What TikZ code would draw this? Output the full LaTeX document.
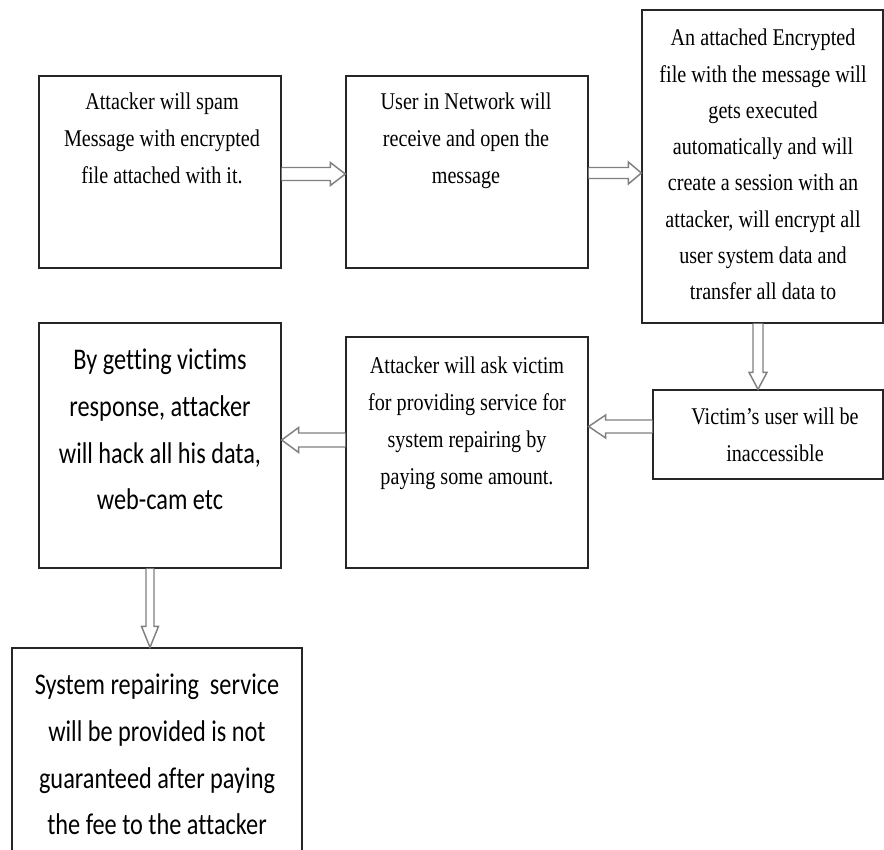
\documentclass[tikz,border=0pt]{standalone}
\usepackage{fontspec}
\setmainfont[FakeStretch=0.84]{Liberation Serif}
\newfontfamily\calfont[FakeStretch=0.81,Ligatures=NoCommon]{Carlito}
\usetikzlibrary{calc}
\tikzset{
  box/.style={draw=black!85, line width=1pt, rectangle, inner sep=0pt, fill=white},
  serif/.style={anchor=north, align=center, inner sep=0pt, font=\fontsize{18pt}{27.6pt}\selectfont},
  cal/.style={anchor=north, align=center, inner sep=0pt, font=\calfont\fontsize{22.5pt}{35pt}\selectfont},
  blockarrow/.style={draw=black!50, line width=1.1pt, fill=white, line join=miter}
}
\newcommand\harrow[5]{\draw[blockarrow] ($(#1)+(0,-#3)$) -- ($(#2)+(#5,-#3)$) -- ($(#2)+(#5,-#4)$) -- (#2) -- ($(#2)+(#5,#4)$) -- ($(#2)+(#5,#3)$) -- ($(#1)+(0,#3)$);}
\newcommand\varrow[5]{\draw[blockarrow] ($(#1)+(-#3,0)$) -- ($(#2)+(-#3,#5)$) -- ($(#2)+(-#4,#5)$) -- (#2) -- ($(#2)+(#4,#5)$) -- ($(#2)+(#3,#5)$) -- ($(#1)+(#3,0)$);}
\begin{document}
\begin{tikzpicture}[x=0.75pt,y=-0.75pt]
\useasboundingbox[fill=white] (0,0) rectangle (884,849);
% boxes
\node[box, minimum width=242*0.75pt, minimum height=192*0.75pt] (b1) at (160,172) {};
\node[box, minimum width=242*0.75pt, minimum height=192*0.75pt] (b2) at (467,172) {};
\node[box, minimum width=241*0.75pt, minimum height=313*0.75pt] (b3) at (762.5,166.5) {};
\node[box, minimum width=230*0.75pt, minimum height=89*0.75pt] (b4) at (768,434.5) {};
\node[box, minimum width=242*0.75pt, minimum height=231*0.75pt] (b5) at (467,452.5) {};
\node[box, minimum width=242*0.75pt, minimum height=245*0.75pt] (b6) at (160,445.5) {};
\node[box, minimum width=290*0.75pt, minimum height=212*0.75pt] (b7) at (157,754) {};
% texts
\node[serif] (t1) at (162,93) {Attacker will spam\\Message with encrypted\\file attached with it.};
\node[serif] (t2) at (466,93) {User in Network will\\receive and open the\\message};
\node[serif, font=\fontsize{18pt}{27.2pt}\selectfont] (t3) at (763,29) {An attached Encrypted\\file with the message will\\gets executed\\automatically and will\\create a session with an\\attacker, will encrypt all\\user system data and\\transfer all data to};
\node[serif] (t4) at (775,408) {Victim’s user will be\\inaccessible};
\node[serif] (t5) at (467,357) {Attacker will ask victim\\for providing service for\\system repairing by\\paying some amount.};
\node[cal] (t6) at (160,349) {By getting victims\\response, attacker\\will hack all his data,\\web-cam etc};
\node[cal] (t7) at (157,674) {System repairing\ \ service\\will be provided is not\\guaranteed after paying\\the fee to the attacker};
% arrow end points
\coordinate (a1s) at ($(b1.east)+(0,2)$);
\coordinate (a1e) at ($(b2.west)+(0,2)$);
\coordinate (a2s) at ($(b2.east)+(0,1)$);
\coordinate (a2e) at ($(b3.west)+(0,6.5)$);
\coordinate (a3s) at ($(b3.south)+(-4.5,0)$);
\coordinate (a3e) at ($(b4.north)+(-10,0)$);
\coordinate (a4s) at ($(b4.west)+(0,-8)$);
\coordinate (a4e) at ($(b5.east)+(0,-26)$);
\coordinate (a5s) at ($(b5.west)+(0,-12.5)$);
\coordinate (a5e) at ($(b6.east)+(0,-5.5)$);
\coordinate (a6s) at ($(b6.south)+(-10,0)$);
\coordinate (a6e) at ($(b7.north)+(-7,0)$);
% arrows
\harrow{a1s}{a1e}{6.5}{11.5}{-15}
\harrow{a2s}{a2e}{5.5}{11}{-13}
\varrow{a3s}{a3e}{5}{9}{-17}
\harrow{a4s}{a4e}{6.5}{11.5}{17}
\harrow{a5s}{a5e}{7}{12.5}{17}
\varrow{a6s}{a6e}{4}{8.5}{-21}
\end{tikzpicture}
\end{document}
